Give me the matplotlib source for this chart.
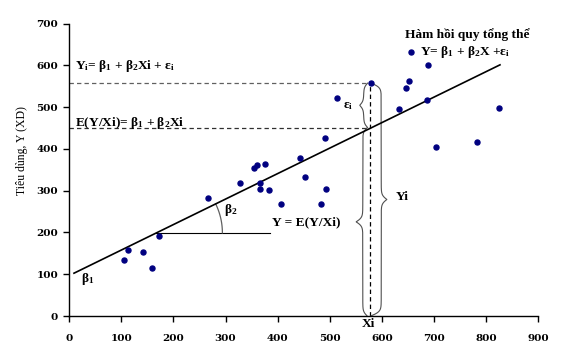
import numpy as np
import matplotlib
matplotlib.use("Agg")
import matplotlib.pyplot as plt

# ---- data ----
x_vals = [105, 113, 141, 159, 173, 267, 328, 354, 360, 375, 366, 366, 383, 406,
          443, 452, 484, 493, 491, 514, 580, 633, 647, 652, 657, 686, 688, 704,
          782, 826]
y_vals = [134, 158, 154, 114, 192, 282, 319, 354, 362, 363, 318, 305, 301, 268,
          378, 332, 268, 303, 427, 521, 557, 496, 547, 563, 633, 517, 600, 405,
          416, 499]
b1, b2 = 97.0, 0.61          # population regression line
line_x = [9, 827]
Xi, Yi = 577, 558            # highlighted observation
x_ticks = [0, 100, 200, 300, 400, 500, 600, 700, 800, 900]
y_ticks = [0, 100, 200, 300, 400, 500, 600, 700]

plt.rcParams['mathtext.fontset'] = 'custom'
plt.rcParams['mathtext.rm'] = 'Liberation Serif:bold'
plt.rcParams['mathtext.it'] = 'Liberation Serif:bold'
plt.rcParams['mathtext.bf'] = 'Liberation Serif:bold'
plt.rcParams['font.family'] = ['Liberation Serif', 'DejaVu Serif']

W, H = 562, 356
fig = plt.figure(figsize=(W / 100, H / 100), dpi=100)
L, R, B, T = 69.3 / W, 538 / W, 1 - 316 / H, 1 - 23.7 / H
ax = fig.add_axes([L, B, R - L, T - B])
ax.set_xlim(0, 900)
ax.set_ylim(0, 700)
sx = (R - L) * W / 900.0   # px per x unit
sy = (T - B) * H / 700.0   # px per y unit

for s in ['top', 'right']:
    ax.spines[s].set_visible(False)
for s in ['left', 'bottom']:
    ax.spines[s].set_linewidth(1.0)
ax.set_xticks(x_ticks)
ax.set_yticks(y_ticks)
ax.tick_params(axis='x', direction='out', length=4.5, width=1.0, pad=8.5)
ax.tick_params(axis='y', direction='out', length=4.5, width=1.0, pad=3.5)
for lab in ax.get_xticklabels() + ax.get_yticklabels():
    lab.set_fontweight('bold')
    lab.set_family('DejaVu Serif')
    lab.set_fontsize(7.5)

fig.text(21.7 / W, 1 - 151 / H, 'Tiêu dùng, Y (XD)', rotation=90,
         ha='center', va='center', fontsize=8.5)

# regression line
lx = np.array(line_x, dtype=float)
ax.plot(lx, b1 + b2 * lx, color='black', lw=1.2, zorder=3)

# points
ax.plot(x_vals, y_vals, 'o', color='#000080', markersize=3.6, zorder=4)

E_i = 451
# dashed guides
ax.plot([0, Xi], [Yi, Yi], color='#606060', lw=0.9, dashes=(3.5, 2.5))
ax.plot([0, Xi], [E_i, E_i], color='#303030', lw=0.9, dashes=(3.5, 2.5))
ax.plot([Xi, Xi], [0, Yi], color='black', lw=0.9, dashes=(3.5, 2.5))


def brace(x_end, y0, y1, depth_px, direction, pf=0.5, b=0.45, **kw):
    Lpx = (y1 - y0) * sy
    h = Lpx / 2.0
    t = np.linspace(0, h, 300)
    term1 = 1 / (1 + np.exp(-b * t))
    term2 = 1 / (1 + np.exp(-b * (t - h)))
    off = depth_px * (pf * (2 * term1 - 1) + (1 - pf) * 2 * term2)
    tt = np.concatenate([t, Lpx - t[::-1]])
    oo = np.concatenate([off, off[::-1]])
    xs = x_end + direction * oo / sx
    ys = y0 + tt / sy
    ax.plot(xs, ys, color='#505050', lw=0.8, solid_capstyle='round', **kw)


brace(Xi - 4, E_i, Yi, 8, -1, pf=0.5)          # eps_i
brace(Xi - 5, 0, E_i, 11, -1, pf=0.4)          # E(Y/Xi)
brace(Xi + 2, 0, Yi, 16, +1, pf=0.65)          # Yi

# beta2 angle
x_int = (199 - b1) / b2
ax.plot([x_int, 385], [199, 199], color='black', lw=0.8)
ang = np.arctan(b2 * sy / sx)
th = np.linspace(0, ang, 50)
r = 66
ax.plot(x_int + r * np.cos(th) / sx, 199 + r * np.sin(th) / sy, color='#606060', lw=0.9)

fs = 9.6
kw = dict(fontsize=fs, fontweight='bold')
ax.text(11, 591, r'$\mathrm{Y_i}$= $\mathrm{β_1}$ + $\mathrm{β_2}$Xi + $\mathrm{ε_i}$',
        ha='left', va='baseline', **kw)
ax.text(11, 455, r'E(Y/Xi)= $\mathrm{β_1}$ + $\mathrm{β_2}$Xi',
        ha='left', va='baseline', **kw)
ax.text(764, 665, 'Hàm hồi quy tổng thể', ha='center', va='baseline', **kw)
ax.text(673, 625, r'Y= $\mathrm{β_1}$ + $\mathrm{β_2}$X +$\mathrm{ε_i}$',
        ha='left', va='baseline', **kw)
ax.text(525, 503, r'$\mathrm{ε_i}$', ha='left', va='center', **kw)
ax.text(22, 89, r'$\mathrm{β_1}$', ha='left', va='center', **kw)
ax.text(297, 253, r'$\mathrm{β_2}$', ha='left', va='center', **kw)
ax.text(389, 225, 'Y = E(Y/Xi)', ha='left', va='center', **kw)
ax.text(627, 285, 'Yi', ha='left', va='center', **kw)
ax.text(574, -4, 'Xi', ha='center', va='top', clip_on=False, **kw)

fig.savefig('out.png', dpi=100)
